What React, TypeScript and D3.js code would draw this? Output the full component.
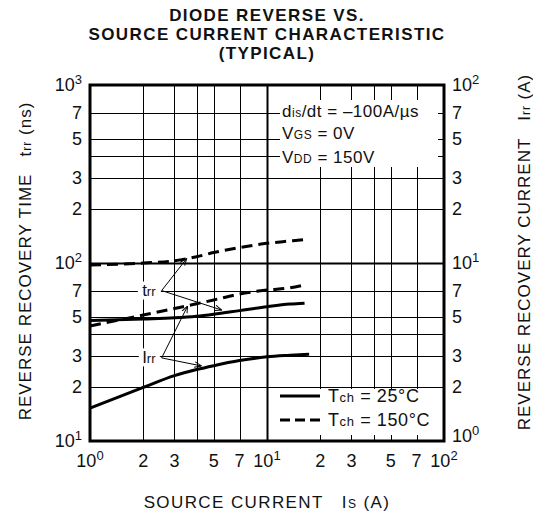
import * as d3 from 'd3';

// source current (A) sampled along each curve
const trr25X = [1, 2, 3, 4, 5, 7, 10, 13.5, 16.3];
const trr25 = [47.5, 48.5, 49.2, 50.2, 51.5, 54, 56.8, 58.8, 59.5];
const trr150X = [1, 2, 3, 4, 5, 7, 10, 13.5, 16.3];
const trr150 = [97.5, 100, 103, 108.5, 114.5, 122, 129, 133, 135.5];
const irr25X = [1, 2, 3, 4, 5, 7, 10, 13.5, 17.3];
const irr25 = [1.53, 2.0, 2.33, 2.52, 2.65, 2.83, 2.97, 3.03, 3.07];
const irr150X = [1, 2, 3, 4, 5, 7, 10, 13.5, 16];
const irr150 = [4.43, 5.1, 5.55, 5.9, 6.2, 6.7, 7.05, 7.25, 7.5];

const xGrid = [2, 3, 4, 5, 7, 10, 20, 30, 40, 50, 70];
const xTicks = [1, 2, 3, 5, 7, 10, 20, 30, 50, 70, 100];
const yGridL = [20, 30, 40, 50, 70, 100, 200, 300, 400, 500, 700];
const yTicksL = [10, 20, 30, 50, 70, 100, 200, 300, 500, 700, 1000];
const yTicksR = [1, 2, 3, 5, 7, 10, 20, 30, 50, 70, 100];

const titleLines = ['DIODE REVERSE VS.', 'SOURCE CURRENT CHARACTERISTIC', '(TYPICAL)'];

const FONT = '"Liberation Sans", Arial, sans-serif';

function TickLabel({ v, x, y, anchor }: { v: number; x: number; y: number; anchor: string }) {
  const e = Math.log10(v);
  const isDecade = Math.abs(e - Math.round(e)) < 1e-9;
  const mant = Math.round(v / Math.pow(10, Math.floor(e + 1e-9)));
  return (
    <text x={x} y={y} textAnchor={anchor} fontSize={18} fontFamily={FONT} fill="#111">
      {isDecade ? (
        <>
          10<tspan dy={-7} fontSize={13}>{Math.round(e)}</tspan>
        </>
      ) : (
        String(mant)
      )}
    </text>
  );
}

export default function App() {
  const W = 533, H = 518;
  const x = d3.scaleLog().domain([1, 100]).range([90, 444]);
  const yL = d3.scaleLog().domain([10, 1000]).range([441, 85]);
  const yR = d3.scaleLog().domain([1, 100]).range([441, 85]);

  const line = (xs: number[], ys: number[], sy: d3.ScaleLogarithmic<number, number>) =>
    d3.line<number>().x((_, i) => x(xs[i])).y((d) => sy(d)).curve(d3.curveMonotoneX)(ys) || '';

  const px = (v: number) => Math.round(v) + 0.5;
  const [x0, x1] = x.range();
  const [y0, y1] = yL.range();

  // leader annotations (in data units: A, ns)
  const trrLab = { x: 2.15, y: 70 };
  const trrFrom = { x: 2.54, y: 70 };
  const trrTo = [{ x: 3.52, y: 106 }, { x: 5.55, y: 54.4 }];
  const irrLab = { x: 2.15, y: 29.5 };
  const irrFrom = { x: 2.54, y: 29.3 };
  const irrTo = [{ x: 3.56, y: 57.3 }, { x: 4.27, y: 26.4 }];

  const small = 12;

  return (
    <svg width={W} height={H} style={{ position: 'absolute', left: 0, top: 0, background: '#fff' }}>
      <defs>
        <marker id="arr" viewBox="0 0 10 10" refX="10" refY="5" markerWidth="7" markerHeight="7" orient="auto">
          <path d="M0,1 L10,5 L0,9" fill="none" stroke="#000" strokeWidth={1.4} />
        </marker>
      </defs>
      <rect width={W} height={H} fill="#fff" />

      {/* title */}
      <text textAnchor="middle" fontFamily={FONT} fontWeight="bold" fontSize={17} letterSpacing={1.4} fill="#111">
        {titleLines.map((t, i) => (
          <tspan key={i} x={267} y={21 + i * 19}>{t}</tspan>
        ))}
      </text>

      {/* grid */}
      {xGrid.map((v) => (
        <line key={'gx' + v} x1={px(x(v))} x2={px(x(v))} y1={y1} y2={y0} stroke="#000" strokeWidth={v === 10 ? 2 : 1} />
      ))}
      {yGridL.map((v) => (
        <line key={'gy' + v} x1={x0} x2={x1} y1={px(yL(v))} y2={px(yL(v))} stroke="#000" strokeWidth={v === 100 ? 2 : 1} />
      ))}

      {/* masks for text boxes */}
      <rect x={280} y={100} width={158} height={67} fill="#fff" />
      <rect x={276} y={389} width={162} height={46} fill="#fff" />
      <rect x={x(trrLab.x) - 11} y={yL(trrLab.y) - 9} width={23} height={18} fill="#fff" />
      <rect x={x(irrLab.x) - 10} y={yL(irrLab.y) - 9} width={21} height={18} fill="#fff" />

      {/* curves */}
      <path d={line(trr25X, trr25, yL)} fill="none" stroke="#000" strokeWidth={3} />
      <path d={line(trr150X, trr150, yL)} fill="none" stroke="#000" strokeWidth={3} strokeDasharray="11,6" />
      <path d={line(irr25X, irr25, yR)} fill="none" stroke="#000" strokeWidth={3} />
      <path d={line(irr150X, irr150, yR)} fill="none" stroke="#000" strokeWidth={3} strokeDasharray="11,6" />

      {/* leaders */}
      {trrTo.map((p, i) => (
        <line key={'lt' + i} x1={x(trrFrom.x)} y1={yL(trrFrom.y)} x2={x(p.x)} y2={yL(p.y)} stroke="#000" strokeWidth={1} markerEnd="url(#arr)" />
      ))}
      {irrTo.map((p, i) => (
        <line key={'li' + i} x1={x(irrFrom.x)} y1={yL(irrFrom.y)} x2={x(p.x)} y2={yL(p.y)} stroke="#000" strokeWidth={1} markerEnd="url(#arr)" />
      ))}
      <text x={x(trrLab.x)} y={yL(trrLab.y) + 5} textAnchor="middle" fontFamily={FONT} fontSize={17} fill="#111">
        t<tspan fontSize={13}>rr</tspan>
      </text>
      <text x={x(irrLab.x)} y={yL(irrLab.y) + 6} textAnchor="middle" fontFamily={FONT} fontSize={17} fill="#111">
        I<tspan fontSize={13}>rr</tspan>
      </text>

      {/* frame */}
      <rect x={x0} y={y1} width={x1 - x0} height={y0 - y1} fill="none" stroke="#000" strokeWidth={3} />

      {/* conditions */}
      <g fontFamily={FONT} fontSize={17} letterSpacing={0.5} fill="#111" style={{ whiteSpace: 'pre' }}>
        <text x={282} y={117}>d<tspan fontSize={small}>is</tspan>/dt = –100A/µs</text>
        <text x={282} y={139}>V<tspan fontSize={small}>GS</tspan> = 0V</text>
        <text x={282} y={163}>V<tspan fontSize={small}>DD</tspan> = 150V</text>
      </g>

      {/* legend */}
      <line x1={280} x2={320} y1={396} y2={396} stroke="#000" strokeWidth={3} />
      <line x1={280} x2={320} y1={420} y2={420} stroke="#000" strokeWidth={3} strokeDasharray="10,5" />
      <g fontFamily={FONT} fontSize={18} letterSpacing={0.6} fill="#111">
        <text x={328} y={402}>T<tspan fontSize={13}>ch</tspan> = 25°C</text>
        <text x={328} y={426}>T<tspan fontSize={13}>ch</tspan> = 150°C</text>
      </g>

      {/* tick labels */}
      {yTicksL.map((v) => (
        <TickLabel key={'yl' + v} v={v} x={82} y={yL(v) + 6} anchor="end" />
      ))}
      {yTicksR.map((v, i) => (
        <TickLabel key={'yr' + v} v={v} x={452} y={yR(v) + (i === 0 ? 1 : 6)} anchor="start" />
      ))}
      {xTicks.map((v) => (
        <TickLabel key={'xt' + v} v={v} x={x(v)} y={467} anchor="middle" />
      ))}

      {/* axis titles */}
      <text transform="translate(31,261) rotate(-90)" textAnchor="middle" fontFamily={FONT} fontSize={17} letterSpacing={1} fill="#111" style={{ whiteSpace: 'pre' }}>
        REVERSE RECOVERY TIME   t<tspan fontSize={12}>rr</tspan> (ns)
      </text>
      <text transform="translate(530,252) rotate(-90)" textAnchor="middle" fontFamily={FONT} fontSize={17} letterSpacing={1} fill="#111" style={{ whiteSpace: 'pre' }}>
        REVERSE RECOVERY CURRENT   I<tspan fontSize={12}>rr</tspan> (A)
      </text>
      <text x={267} y={508} textAnchor="middle" fontFamily={FONT} fontSize={17} letterSpacing={1.4} fill="#111" style={{ whiteSpace: 'pre' }}>
        SOURCE CURRENT   I<tspan fontSize={12}>S</tspan> (A)
      </text>
    </svg>
  );
}
